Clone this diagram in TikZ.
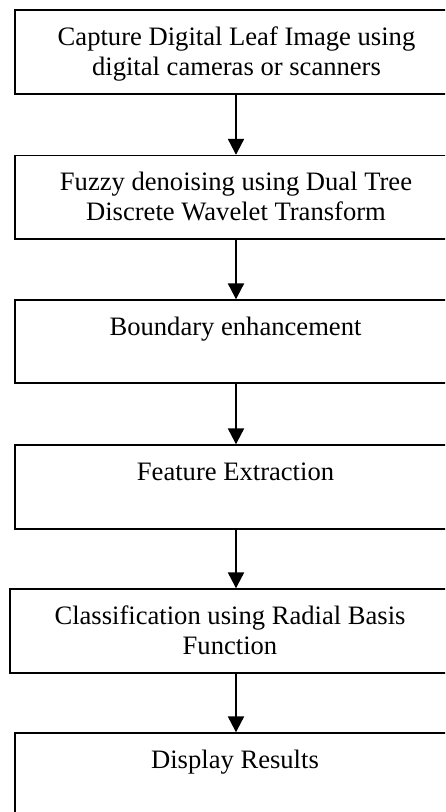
\documentclass[tikz,border=0pt]{standalone}
\usepackage{fontspec}
\setmainfont{Liberation Serif}
\usetikzlibrary{arrows.meta}
\begin{document}
\begin{tikzpicture}[x=1pt,y=-1pt,
  box/.style={draw, rectangle, line width=1.4pt, minimum height=84pt, inner sep=0pt},
  lbl/.style={anchor=base, inner sep=0pt, font=\fontsize{26.6}{30}\selectfont},
  arr/.style={line width=2.2pt, -{Triangle[width=16pt,length=16pt]}}]
\useasboundingbox (0,0) rectangle (445,812);
\clip (0,0) rectangle (445,812);
\node[box, minimum width=442pt, minimum height=84pt] (b1) at (236,52) {};
\node[box, minimum width=442pt, minimum height=83.5pt] (b2) at (236,197.25) {};
\node[box, minimum width=442pt, minimum height=83pt] (b3) at (236,341.5) {};
\node[box, minimum width=442pt, minimum height=84pt] (b4) at (236,487) {};
\node[box, minimum width=441pt, minimum height=84pt] (b5) at (230.5,631) {};
\node[box, minimum width=442pt, minimum height=84pt] (b6) at (236,775) {};
\node[lbl] (t1) at (236.5,45) {\begin{tabular}[t]{@{}c@{}}Capture Digital Leaf Image using\\digital cameras or scanners\end{tabular}};
\node[lbl] (t2) at (236,190.5) {\begin{tabular}[t]{@{}c@{}}Fuzzy denoising using Dual Tree\\Discrete Wavelet Transform\end{tabular}};
\node[lbl] (t3) at (235.5,335) {Boundary enhancement};
\node[lbl] (t4) at (235.5,480) {Feature Extraction};
\node[lbl] (t5) at (230,624) {\begin{tabular}[t]{@{}c@{}}Classification using Radial Basis\\Function\end{tabular}};
\node[lbl] (t6) at (235,768) {Display Results};
\draw[arr] (b1.south) -- (b2.north);
\draw[arr] (b2.south) -- (b3.north);
\draw[arr] (b3.south) -- (b4.north);
\draw[arr] (b4.south) -- (b5.north -| b4.south);
\draw[arr] (b5.south -| b4.south) -- (b6.north);
\end{tikzpicture}
\end{document}
